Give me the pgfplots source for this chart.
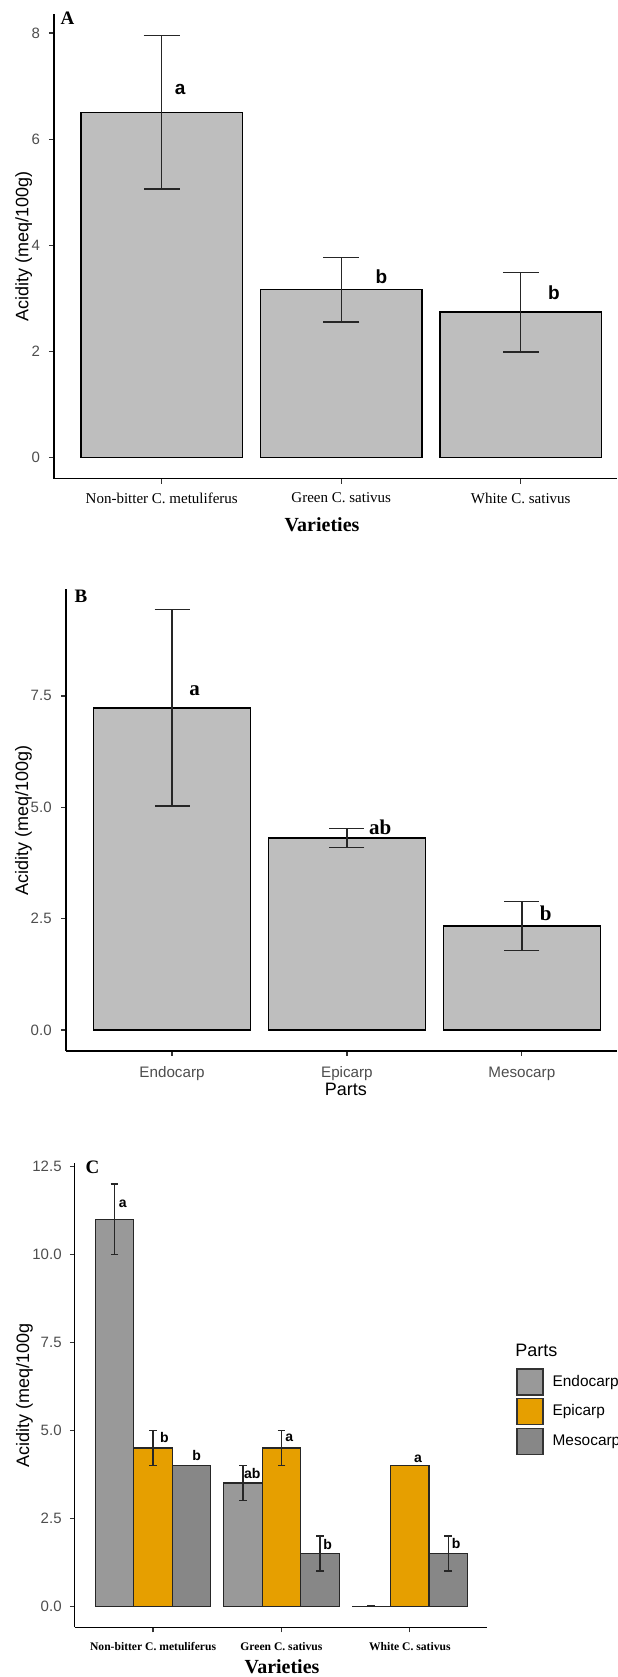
\documentclass[border=0pt]{standalone}
\usepackage{fontspec}
\setmainfont{Liberation Serif}
\newfontfamily\arial{Liberation Sans}
\usepackage{pgfplots}
\pgfplotsset{compat=1.18}
\usepackage{pgfplotstable}
\definecolor{barfill}{HTML}{BEBEBE}
\definecolor{endo}{HTML}{999999}
\definecolor{epi}{HTML}{E69F00}
\definecolor{meso}{HTML}{878787}
\definecolor{tickgray}{HTML}{4D4D4D}

\pgfplotstableread{
x y e
1 6.51 1.45
2 3.16 0.61
3 2.74 0.75
}\dataA
\pgfplotstableread{
x y e
1 7.23 2.205
2 4.31 0.21
3 2.335 0.555
}\dataB
\pgfplotstableread{
x y e
1 11.0 1.0
2 3.5 0.5
3 0.0 0.0
}\dataEndo
\pgfplotstableread{
x y e
1 4.5 0.5
2 4.5 0.5
3 4.0 0.0
}\dataEpi
\pgfplotstableread{
x y e
1 4.0 0.0
2 1.5 0.5
3 1.5 0.5
}\dataMeso

\pgfplotsset{
  panel/.style={
    scale only axis, anchor=south west,
    axis x line=bottom, axis y line=left,
    axis line style={-, line width=0.6pt, black},
    tick align=outside, major tick length=2.5pt,
    tick style={line width=0.6pt, black!80},
    ybar, clip=false, xtick={1,2,3},
    /pgf/number format/assume math mode=true,
    yticklabel style={font=\arial\fontsize{7.5}{9}\selectfont, text=tickgray, anchor=east, inner sep=0pt},
    xticklabel style={anchor=center, inner sep=0pt},
    xlabel style={anchor=center},
    ylabel style={anchor=center, font=\arial\fontsize{9}{11}\selectfont},
  },
  ebars/.style={error bars/.cd, y dir=both, y explicit,
    error bar style={line width=0.7pt, black!85},
    error mark options={rotate=90, mark size=#1, line width=0.7pt, black!85}},
}

\begin{document}
\begin{tikzpicture}
\useasboundingbox (0,0) rectangle (308.5pt,838.5pt);

% ---------------- Panel A ----------------
\begin{axis}[panel, at={(27pt,599.2pt)}, width=281.5pt, height=232.3pt,
  xmin=0.4, xmax=3.536, ymin=-0.4, ymax=8.36, bar width=0.9,
  ytick={0,2,4,6,8}, yticklabels={0,2,4,6,8},
  yticklabel style={xshift=-4.35pt},
  xticklabels={Non-bitter C. metuliferus, Green C. sativus, White C. sativus},
  xticklabel style={font=\fontsize{7.5}{9}\selectfont, yshift=-7.2pt, text=black},
  xlabel={\textbf{Varieties}},
  xlabel style={at={(axis description cs:0.476,0)}, yshift=-23.2pt, font=\fontsize{10}{12}\selectfont},
  ylabel={Acidity (meq/100g)},
  ylabel style={at={(axis description cs:-0.054,0.5)}},
]
\addplot[fill=barfill, draw=black, line width=0.6pt, ebars=9pt] table[x=x, y=y, y error=e]{\dataA};
\node[font=\arial\bfseries\fontsize{9.5}{11}\selectfont] at (axis cs:1.103,6.94) {a};
\node[font=\arial\bfseries\fontsize{9.5}{11}\selectfont] at (axis cs:2.224,3.41) {b};
\node[font=\arial\bfseries\fontsize{9.5}{11}\selectfont] at (axis cs:3.184,3.11) {b};
\node[font=\bfseries\fontsize{9.5}{11}\selectfont, inner sep=0pt] at (rel axis cs:0.024,0.990) {A};
\end{axis}

% ---------------- Panel B ----------------
\begin{axis}[panel, at={(33pt,313pt)}, width=275.5pt, height=231pt,
  xmin=0.394, xmax=3.544, ymin=-0.47, ymax=9.9, bar width=0.9,
  ytick={0,2.5,5,7.5}, yticklabels={0.0,2.5,5.0,7.5},
  yticklabel style={xshift=-4.5pt},
  xticklabels={Endocarp, Epicarp, Mesocarp},
  xticklabel style={font=\arial\fontsize{7.6}{9}\selectfont, yshift=-9pt, text=tickgray},
  xlabel={Parts},
  xlabel style={at={(axis description cs:0.508,0)}, yshift=-19pt, font=\arial\fontsize{9}{11}\selectfont},
  ylabel={Acidity (meq/100g)},
  ylabel style={at={(axis description cs:-0.077,0.498)}},
]
\addplot[fill=barfill, draw=black, line width=0.6pt, ebars=8.75pt] table[x=x, y=y, y error=e]{\dataB};
\node[font=\bfseries\fontsize{10.5}{12}\selectfont] at (axis cs:1.13,7.61) {a};
\node[font=\bfseries\fontsize{10.5}{12}\selectfont] at (axis cs:2.19,4.56) {ab};
\node[font=\bfseries\fontsize{10.5}{12}\selectfont] at (axis cs:3.137,2.62) {b};
\node[font=\bfseries\fontsize{9.5}{11}\selectfont, inner sep=0pt] at (rel axis cs:0.027,0.984) {B};
\end{axis}

% ---------------- Panel C ----------------
\begin{axis}[panel, at={(37.4pt,24.85pt)}, width=206pt, height=232.15pt,
  xmin=0.39, xmax=3.6, ymin=-0.6, ymax=12.6, bar width=0.3,
  ytick={0,2.5,5,7.5,10,12.5}, yticklabels={0.0,2.5,5.0,7.5,10.0,12.5},
  yticklabel style={xshift=-3.9pt},
  xticklabels={Non-bitter C. metuliferus, Green C. sativus, White C. sativus},
  xticklabel style={font=\bfseries\fontsize{5.8}{7}\selectfont, yshift=-7.2pt, text=black},
  xlabel={\textbf{Varieties}},
  xlabel style={at={(axis description cs:0.503,0)}, yshift=-19.7pt, font=\fontsize{10}{12}\selectfont},
  ylabel={Acidity (meq/100g},
  ylabel style={at={(axis description cs:-0.122,0.4997)}},
  legend style={at={(rel axis cs:1.071,0.5585)}, anchor=north west, draw=none, fill=none,
    inner sep=0pt, row sep=1.3pt, column sep=3.5pt,
    font=\arial\fontsize{7.7}{9}\selectfont, nodes={inner sep=1pt}},
  legend cell align=left,
  legend image code/.code={\draw[#1, draw=black!80, line width=0.6pt] (0pt,-6.5pt) rectangle (13pt,6.5pt);},
]
\addplot[fill=endo, draw=black!85, line width=0.6pt, bar shift=-0.3, ebars=1.93pt] table[x=x, y=y, y error=e]{\dataEndo};
\addlegendentry{Endocarp}
\addplot[fill=epi, draw=black!85, line width=0.6pt, bar shift=0, ebars=1.93pt] table[x=x, y=y, y error=e]{\dataEpi};
\addlegendentry{Epicarp}
\addplot[fill=meso, draw=black!85, line width=0.6pt, bar shift=0.3, ebars=1.93pt] table[x=x, y=y, y error=e]{\dataMeso};
\addlegendentry{Mesocarp}
\node[font=\arial\bfseries\fontsize{7}{8}\selectfont] at (axis cs:0.764,11.44) {a};
\node[font=\arial\bfseries\fontsize{7}{8}\selectfont] at (axis cs:1.089,4.79) {b};
\node[font=\arial\bfseries\fontsize{7}{8}\selectfont] at (axis cs:1.34,4.29) {b};
\node[font=\arial\bfseries\fontsize{7}{8}\selectfont] at (axis cs:1.773,3.76) {ab};
\node[font=\arial\bfseries\fontsize{7}{8}\selectfont] at (axis cs:2.061,4.8) {a};
\node[font=\arial\bfseries\fontsize{7}{8}\selectfont] at (axis cs:2.361,1.74) {b};
\node[font=\arial\bfseries\fontsize{7}{8}\selectfont] at (axis cs:3.064,4.2) {a};
\node[font=\arial\bfseries\fontsize{7}{8}\selectfont] at (axis cs:3.361,1.77) {b};
\node[font=\bfseries\fontsize{9.5}{11}\selectfont, inner sep=0pt] at (rel axis cs:0.043,0.991) {C};
\node[anchor=west, inner sep=0pt, font=\arial\fontsize{9}{11}\selectfont] at (rel axis cs:1.0684,0.597) {Parts};
\end{axis}
\end{tikzpicture}
\end{document}
